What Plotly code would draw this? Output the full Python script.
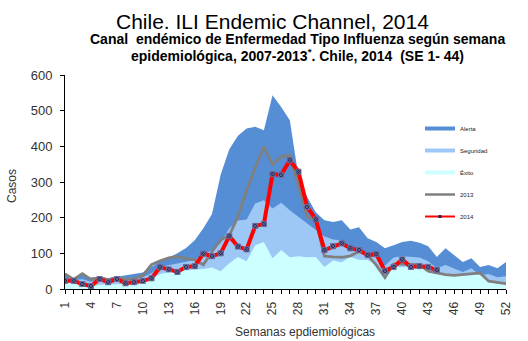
import plotly.graph_objects as go

# Epidemiological weeks and endemic channel bands (2007-2013)
weeks = list(range(1, 53))
alerta = [44, 30, 40, 32, 34, 30, 34, 38, 44, 46,
          62, 78, 88, 100, 115, 137, 170, 210, 320, 392,
          430, 450, 455, 445, 543, 510, 473, 315, 258, 215,
          193, 188, 193, 167, 173, 142, 132, 114, 123, 132,
          135, 130, 120, 90, 114, 95, 76, 86, 62, 67,
          58, 76]
seguridad = [32, 25, 27, 20, 27, 24, 28, 28, 30, 33,
             44, 62, 67, 72, 76, 81, 95, 109, 128, 170,
             192, 195, 240, 249, 226, 242, 221, 203, 184, 165,
             147, 139, 137, 110, 105, 92, 88, 65, 88, 92,
             90, 88, 78, 58, 67, 58, 48, 58, 39, 42,
             33, 36]
exito = [20, 15, 16, 8, 12, 12, 14, 14, 16, 18,
         28, 42, 47, 50, 52, 55, 56, 60, 50, 72,
         90, 78, 123, 132, 86, 109, 89, 92, 89, 90,
         62, 80, 75, 90, 82, 81, 67, 36, 62, 62,
         62, 60, 53, 45, 38, 36, 38, 40, 40, 20,
         15, 13]

# Weekly ILI cases
cases_2013 = [42, 27, 43, 27, 32, 26, 32, 27, 29, 38,
              68, 79, 87, 91, 85, 82, 68, 105, 138, 150,
              203, 277, 340, 399, 349, 371, 375, 290, 203, 193,
              92, 90, 89, 93, 105, 95, 67, 32, 70, 70,
              68, 68, 50, 45, 40, 38, 40, 44, 45, 22,
              18, 15]
cases_2014 = [23, 23, 14, 8, 28, 19, 28, 16, 19, 23,
              30, 61, 55, 48, 62, 64, 99, 92, 100, 148,
              119, 111, 177, 182, 322, 320, 361, 329, 230, 195,
              109, 120, 128, 114, 109, 95, 98, 51, 62, 83,
              62, 64, 62, 53]
weeks_2014 = weeks[:len(cases_2014)]

tick_labels = [str(w) if (w - 1) % 3 == 0 else "" for w in weeks]

C_ALERTA = "#558ED5"
C_SEGURIDAD = "#9DC8F5"
C_EXITO = "#CCFFFF"
C_2013 = "#808080"
C_2014 = "#FF0000"

W, H = 528, 341
L, R, T, B = 65, 22, 75, 52
PW, PH = W - L - R, H - T - B


def px(x):
    return (x - L) / PW


def py(y):
    return (H - B - y) / PH


fig = go.Figure()

for name, vals, col in [("Alerta", alerta, C_ALERTA),
                        ("Seguridad", seguridad, C_SEGURIDAD),
                        ("Éxito", exito, C_EXITO)]:
    fig.add_trace(go.Scatter(x=weeks, y=vals, mode="lines", fill="tozeroy",
                             fillcolor=col, line=dict(width=0, color=col),
                             showlegend=False, hoverinfo="skip"))

fig.add_trace(go.Scatter(x=weeks, y=cases_2013, mode="lines",
                         line=dict(color=C_2013, width=2.8),
                         showlegend=False))
fig.add_trace(go.Scatter(x=weeks_2014, y=cases_2014, mode="lines+markers",
                         line=dict(color=C_2014, width=4),
                         marker=dict(symbol="square-x", size=5, color="#26264F",
                                     line=dict(color="#6C6C9C", width=1)),
                         showlegend=False))

# Legend entries
for i, (name, col, wdt) in enumerate([("Alerta", C_ALERTA, 4),
                                      ("Seguridad", C_SEGURIDAD, 4),
                                      ("Éxito", C_EXITO, 4),
                                      ("2013", C_2013, 2.5)]):
    fig.add_trace(go.Scatter(x=[None], y=[None], mode="lines", name=name,
                             legendgroup=str(i),
                             line=dict(color=col, width=wdt)))
fig.add_trace(go.Scatter(x=[None], y=[None], mode="lines+markers", name="2014",
                         legendgroup="4",
                         line=dict(color=C_2014, width=2),
                         marker=dict(symbol="square", size=3, color="#26264F")))

font_family = "Liberation Sans, Arial, sans-serif"

fig.update_layout(
    width=W, height=H,
    margin=dict(l=L, r=R, t=T, b=B),
    paper_bgcolor="white", plot_bgcolor="white",
    font=dict(family=font_family, color="#333333", size=12),
    showlegend=True,
    legend=dict(x=px(420), y=py(114), xanchor="left", yanchor="top",
                font=dict(size=6, color="#222222"),
                bgcolor="rgba(0,0,0,0)", tracegroupgap=3,
                traceorder="grouped", itemwidth=30),
    xaxis=dict(range=[1, 52], tickmode="array", tickvals=weeks,
               ticktext=tick_labels, tickangle=-90,
               ticks="outside", ticklen=4, tickcolor="black",
               ticklabelstandoff=3,
               showline=True, linecolor="black", linewidth=1,
               showgrid=False, zeroline=False,
               tickfont=dict(size=12, color="#333333")),
    yaxis=dict(range=[0, 600], tickvals=[0, 100, 200, 300, 400, 500, 600],
               ticks="outside", ticklen=4, tickcolor="black",
               ticklabelstandoff=5,
               showline=True, linecolor="black", linewidth=1,
               showgrid=False, zeroline=False,
               tickfont=dict(size=13, color="#333333")),
    annotations=[
        dict(text="Chile. ILI Endemic Channel, 2014", xref="paper", yref="paper",
             x=px(272), y=py(21), xanchor="center", yanchor="middle",
             showarrow=False, font=dict(size=21, color="black")),
        dict(text="<b>Canal  endémico de Enfermedad Tipo Influenza según semana</b>",
             xref="paper", yref="paper", x=px(297), y=py(39),
             xanchor="center", yanchor="middle", showarrow=False,
             font=dict(size=14, color="black")),
        dict(text="<b>epidemiológica, 2007-2013<sup>*</sup>. Chile, 2014  (SE 1- 44)</b>",
             xref="paper", yref="paper", x=px(297), y=py(55),
             xanchor="center", yanchor="middle", showarrow=False,
             font=dict(size=14, color="black")),
        dict(text="Casos", xref="paper", yref="paper", x=px(12), y=py(186),
             xanchor="center", yanchor="middle", textangle=-90,
             showarrow=False, font=dict(size=12, color="#333333")),
        dict(text="Semanas epdiemiológicas", xref="paper", yref="paper",
             x=px(305), y=py(332), xanchor="center", yanchor="middle",
             showarrow=False, font=dict(size=12, color="#333333")),
    ],
)

fig.write_html("out.html")
